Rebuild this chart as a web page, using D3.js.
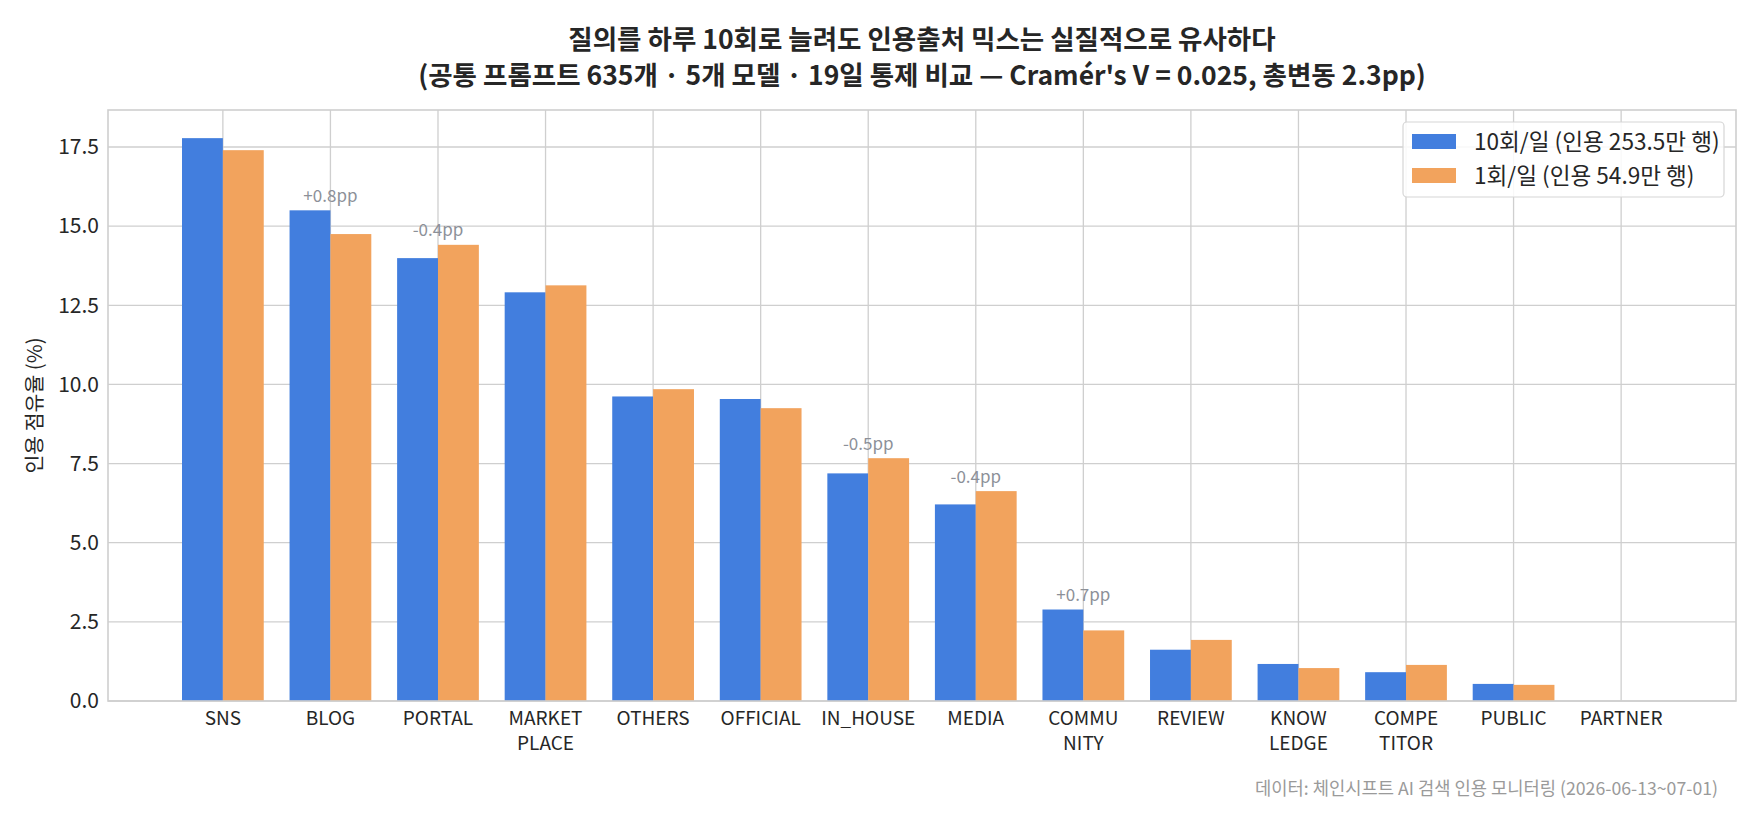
<!DOCTYPE html>
<html>
<head>
<meta charset="utf-8">
<script src="https://cdn.jsdelivr.net/npm/d3@7"></script>
<style>
  body { margin: 0; background: #fff; }
  text { font-family: "Noto Sans CJK KR", "Noto Sans", sans-serif; }
</style>
</head>
<body>
<script>
const WIDTH = 1760
const HEIGHT = 832

const categories = ['SNS', 'BLOG', 'PORTAL', 'MARKET\nPLACE', 'OTHERS', 'OFFICIAL', 'IN_HOUSE',
  'MEDIA', 'COMMU\nNITY', 'REVIEW', 'KNOW\nLEDGE', 'COMPE\nTITOR', 'PUBLIC', 'PARTNER']
const tenPerDay = [17.78, 15.50, 13.99, 12.91, 9.62, 9.54, 7.19, 6.21, 2.89, 1.62, 1.17, 0.91, 0.54, 0.0]
const onePerDay = [17.40, 14.75, 14.41, 13.13, 9.85, 9.25, 7.67, 6.63, 2.23, 1.93, 1.04, 1.14, 0.51, 0.0]
const diffLabels = ['', '+0.8pp', '-0.4pp', '', '', '', '-0.5pp', '-0.4pp', '+0.7pp', '', '', '', '', '']
const seriesNames = ['10회/일 (인용 253.5만 행)', '1회/일 (인용 54.9만 행)']
const yTicks = [0, 2.5, 5, 7.5, 10, 12.5, 15, 17.5]

const titleLines = ['질의를 하루 10회로 늘려도 인용출처 믹스는 실질적으로 유사하다',
  "(공통 프롬프트 635개 · 5개 모델 · 19일 통제 비교 — Cramér's V = 0.025, 총변동 2.3pp)"]
const yLabel = '인용 점유율 (%)'
const footer = '데이터: 체인시프트 AI 검색 인용 모니터링 (2026-06-13~07-01)'

const BLUE = '#427EDE'
const ORANGE = '#F2A35D'
const GRID = '#cfcfcf'
const BAR_W = 0.38

const plot = { left: 108, right: 1736, top: 110, bottom: 701 }

const svg = d3.select('body').append('svg')
  .attr('width', WIDTH)
  .attr('height', HEIGHT)

// x margin like matplotlib: 5% of bar extent
const lo = -BAR_W, hi = categories.length - 1 + BAR_W
const pad = 0.05 * (hi - lo)
const x = d3.scaleLinear().domain([lo - pad, hi + pad]).range([plot.left, plot.right])
const yMax = d3.max(tenPerDay.concat(onePerDay)) * 1.05
const y = d3.scaleLinear().domain([0, yMax]).range([plot.bottom, plot.top])

// grid
const grid = svg.append('g').attr('stroke', GRID).attr('stroke-width', 1.3)
grid.selectAll('line.h')
  .data(yTicks)
  .enter()
  .append('line')
  .attr('x1', plot.left).attr('x2', plot.right)
  .attr('y1', d => y(d)).attr('y2', d => y(d))
grid.selectAll('line.v')
  .data(categories.map((c, i) => i))
  .enter()
  .append('line')
  .attr('x1', d => x(d)).attr('x2', d => x(d))
  .attr('y1', plot.top).attr('y2', plot.bottom)

// bars
const pairs = [
  { vals: tenPerDay, off: -BAR_W / 2, color: BLUE },
  { vals: onePerDay, off: BAR_W / 2, color: ORANGE }
]
pairs.forEach(s => {
  svg.append('g')
    .selectAll('rect')
    .data(s.vals)
    .enter()
    .append('rect')
    .attr('x', (d, i) => x(i + s.off - BAR_W / 2))
    .attr('width', x(BAR_W) - x(0))
    .attr('y', d => y(d))
    .attr('height', d => y(0) - y(d))
    .attr('fill', s.color)
})

// diff annotations
svg.append('g')
  .selectAll('text')
  .data(diffLabels.map((t, i) => ({ t, i })).filter(d => d.t))
  .enter()
  .append('text')
  .attr('x', d => x(d.i))
  .attr('y', d => y(Math.max(tenPerDay[d.i], onePerDay[d.i]) + 0.27))
  .attr('text-anchor', 'middle')
  .attr('font-size', 17)
  .attr('fill', '#8c9098')
  .text(d => d.t)

// frame
svg.append('rect')
  .attr('x', plot.left).attr('y', plot.top)
  .attr('width', plot.right - plot.left).attr('height', plot.bottom - plot.top)
  .attr('fill', 'none').attr('stroke', GRID).attr('stroke-width', 1.6)

// y ticks
svg.append('g')
  .selectAll('text')
  .data(yTicks)
  .enter()
  .append('text')
  .attr('x', plot.left - 9)
  .attr('y', d => y(d))
  .attr('dy', '0.35em')
  .attr('text-anchor', 'end')
  .attr('font-size', 21)
  .attr('fill', '#262626')
  .text(d => d.toFixed(1))

// x ticks
const xt = svg.append('g')
  .selectAll('text')
  .data(categories)
  .enter()
  .append('text')
  .attr('x', (d, i) => x(i))
  .attr('y', plot.bottom + 24)
  .attr('text-anchor', 'middle')
  .attr('font-size', 19)
  .attr('fill', '#262626')
xt.selectAll('tspan')
  .data(d => d.split('\n'))
  .enter()
  .append('tspan')
  .attr('x', function () { return this.parentNode.getAttribute('x') })
  .attr('dy', (d, i) => i === 0 ? 0 : 25)
  .text(d => d)

// y label
svg.append('text')
  .attr('transform', `translate(35,${(plot.top + plot.bottom) / 2}) rotate(-90)`)
  .attr('text-anchor', 'middle')
  .attr('dy', '0.35em')
  .attr('font-size', 20.5)
  .attr('fill', '#262626')
  .text(yLabel)

// title
svg.append('g')
  .selectAll('text')
  .data(titleLines)
  .enter()
  .append('text')
  .attr('x', (plot.left + plot.right) / 2)
  .attr('y', (d, i) => 40 + i * 36)
  .attr('dy', '0.35em')
  .attr('text-anchor', 'middle')
  .attr('font-size', 26.5)
  .attr('font-weight', 'bold')
  .attr('fill', '#262626')
  .text(d => d)

// legend
const lg = svg.append('g')
lg.append('rect')
  .attr('x', 1403).attr('y', 122).attr('width', 321).attr('height', 75)
  .attr('rx', 4)
  .attr('fill', '#fff').attr('fill-opacity', 0.85)
  .attr('stroke', '#d6d6d6').attr('stroke-width', 1.2)
const items = lg.selectAll('g.item')
  .data(seriesNames)
  .enter()
  .append('g')
  .attr('transform', (d, i) => `translate(1412,${142 + i * 34})`)
items.append('rect')
  .attr('x', 0).attr('y', -8).attr('width', 44).attr('height', 15)
  .attr('fill', (d, i) => i === 0 ? BLUE : ORANGE)
items.append('text')
  .attr('x', 62).attr('y', 0).attr('dy', '0.35em')
  .attr('font-size', 22.6)
  .attr('fill', '#262626')
  .text(d => d)

// footer
svg.append('text')
  .attr('x', 1718).attr('y', 789).attr('dy', '0.35em')
  .attr('text-anchor', 'end')
  .attr('font-size', 17.7)
  .attr('fill', '#9a9a9a')
  .text(footer)
</script>
</body>
</html>
